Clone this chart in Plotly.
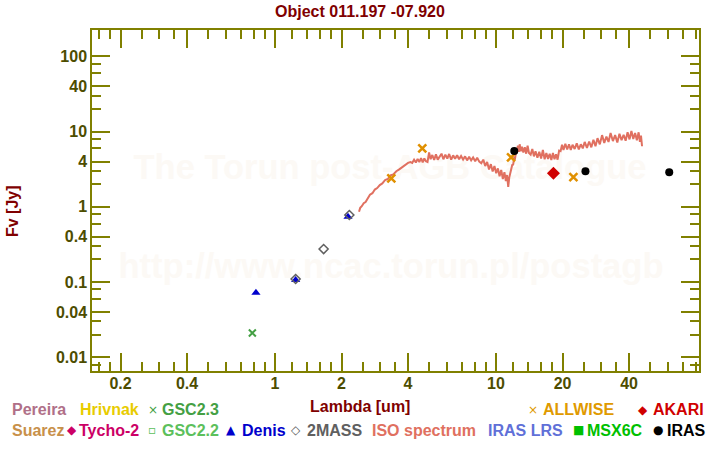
import plotly.graph_objects as go

# ---------------- data ----------------
# ISO spectrum (wavelength um, flux Jy)
iso_wl = [2.40, 2.43, 2.47, 2.52, 2.57, 2.63, 2.69, 2.76, 2.83, 2.90, 2.98, 3.06, 3.15, 3.24, 3.33, 3.43,
          3.54, 3.65, 3.77, 3.89, 4.00, 4.10,
          4.18, 4.26, 4.34, 4.42, 4.50, 4.58, 4.66, 4.74, 4.82, 4.90, 4.98, 5.06, 5.15, 5.25, 5.35, 5.45,
          5.56, 5.67, 5.78, 5.90, 6.02, 6.14, 6.27, 6.40, 6.53, 6.67, 6.81, 6.95, 7.10, 7.25, 7.40, 7.56,
          7.72, 7.88, 8.05, 8.22, 8.40,
          8.58, 8.76, 8.94, 9.12, 9.30, 9.48, 9.66, 9.84, 10.02, 10.20, 10.38, 10.56, 10.74, 10.92, 11.08,
          11.22, 11.36,
          11.48, 11.60, 11.72, 11.84, 11.96, 12.08, 12.20, 12.32, 12.44, 12.56, 12.68, 12.80, 12.95,
          13.10, 13.30, 13.50, 13.70, 13.90, 14.10, 14.35, 14.60, 14.85, 15.10, 15.40, 15.70, 16.00, 16.30,
          16.60, 16.90, 17.20, 17.50, 17.80, 18.10, 18.40, 18.70, 19.00, 19.30,
          19.6, 19.9, 20.2, 20.6, 21.0, 21.4, 21.8, 22.2, 22.7, 23.2, 23.7, 24.2, 24.7, 25.2, 25.8, 26.4,
          27.0, 27.6, 28.2, 28.8, 29.5, 30.2, 30.9, 31.6, 32.3, 33.0, 33.8, 34.6, 35.4, 36.2, 37.0, 37.8,
          38.6, 39.4, 40.2, 41.0, 41.8, 42.6, 43.4, 44.2, 44.8, 45.3, 45.8]
iso_fx = [0.86, 0.97, 1.02, 1.12, 1.16, 1.30, 1.45, 1.52, 1.70, 1.78, 1.95, 2.05, 2.28, 2.35, 2.62, 2.70,
          2.98, 3.15, 3.40, 3.62, 3.85, 3.95,
          3.85, 4.25, 3.90, 4.35, 3.95, 4.45, 3.90, 4.40, 4.05, 3.95, 5.30, 4.30, 4.90, 4.20, 5.00, 4.25,
          4.75, 5.10, 4.30, 4.95, 4.40, 5.05, 4.25, 4.85, 4.35, 4.85, 4.30, 4.75, 4.25, 4.70, 4.15, 4.65,
          4.15, 4.55, 4.05, 4.50, 4.00,
          3.80, 4.25, 3.50, 3.95, 3.15, 3.70, 2.95, 3.50, 2.80, 3.25, 2.55, 3.10, 2.35, 2.90, 2.20,
          2.65, 1.85,
          2.45, 2.85, 3.00, 3.60, 3.65, 4.50, 4.40, 5.40, 5.20, 6.50, 5.40, 6.80, 5.50,
          6.30, 5.30, 6.20, 5.10, 6.50, 5.20, 4.95, 5.90, 4.70, 5.50, 4.50, 5.40, 4.40, 5.70,
          4.30, 5.20, 4.35, 5.10, 4.20, 5.20, 4.30, 5.00, 4.25, 5.60,
          5.50, 6.70, 5.70, 6.90, 5.80, 6.80, 5.70, 6.70, 5.90, 7.00, 5.80, 6.80, 6.00, 7.30, 6.10, 7.40,
          6.20, 7.80, 6.40, 8.20, 6.80, 9.00, 7.10, 8.60, 7.30, 9.60, 7.50, 9.00, 7.20, 9.40, 7.70, 9.10,
          7.60, 9.80, 7.90, 10.2, 8.00, 9.60, 7.70, 9.80, 7.30, 8.90, 6.40]

gsc23_wl = [0.79]
gsc23_fx = [0.021]

denis_wl = [0.82, 1.24, 2.14]
denis_fx = [0.072, 0.107, 0.74]

tmass_wl = [1.24, 1.66, 2.17]
tmass_fx = [0.110, 0.275, 0.78]

allwise_wl = [3.36, 4.64, 11.7, 22.4]
allwise_fx = [2.40, 6.00, 4.55, 2.48]

akari_wl = [18.2]
akari_fx = [2.80]

iras_wl = [12.1, 25.4, 60.8]
iras_fx = [5.55, 2.98, 2.89]

x_tickvals = [0.2, 0.4, 1, 2, 4, 10, 20, 40]
x_ticktext = ["0.2", "0.4", "1", "2", "4", "10", "20", "40"]
x_minor = [0.16, 0.18, 0.25, 0.3, 0.35, 0.5, 0.6, 0.7, 0.8, 0.9, 1.2, 1.4, 1.6, 1.8, 2.5, 3, 3.5,
           5, 6, 7, 8, 9, 12, 14, 16, 18, 25, 30, 35, 50, 60, 70, 80]
y_tickvals = [0.01, 0.04, 0.1, 0.4, 1, 4, 10, 40, 100]
y_ticktext = ["0.01", "0.04", "0.1", "0.4", "1", "4", "10", "40", "100"]
y_minor = [0.008, 0.02, 0.03, 0.06, 0.08, 0.2, 0.3, 0.6, 0.8, 2, 3, 6, 8, 20, 30, 60, 80]

# legend rows: (symbol, label, color, symbol_x_px, label_x_px)
legend_row1 = [("", "Pereira", "#b07088", 0, 10),
               ("", "Hrivnak", "#e8cc00", 0, 78),
               ("×", "GSC2.3", "#44a044", 146, 160),
               ("×", "ALLWISE", "#e09a00", 526, 541),
               ("◆", "AKARI", "#d00000", 636, 651)]
legend_row2 = [("", "Suarez", "#c8904a", 0, 10),
               ("◆", "Tycho-2", "#cc0066", 65, 77),
               ("▫", "GSC2.2", "#5cc05c", 146, 160),
               ("▲", "Denis", "#0000cc", 224, 240),
               ("◇", "2MASS", "#606060", 289, 305),
               ("", "ISO spectrum", "#e07060", 0, 370),
               ("", "IRAS LRS", "#6070d8", 0, 486),
               ("■", "MSX6C", "#00c000", 571, 585),
               ("●", "IRAS", "#000000", 651, 665)]

# ---------------- figure ----------------
W, H = 720, 450
L, R, T, B = 92, 21, 30, 79
PW, PH = W - L - R, H - T - B


def px(x):
    return (x - L) / PW


def py(y):
    return (H - B - y) / PH


FONT = "Liberation Sans, Arial, sans-serif"
AX = "#808000"
TICKC = "#4d4d00"
DARKRED = "#800000"
WM = "#fcf9f5"

fig = go.Figure()

fig.add_trace(go.Scatter(x=iso_wl, y=iso_fx, mode="lines",
                         line=dict(color="#e07060", width=2), showlegend=False))
fig.add_trace(go.Scatter(x=gsc23_wl, y=gsc23_fx, mode="markers", showlegend=False,
                         marker=dict(symbol="x-thin-open", size=7, color="#44a044",
                                     line=dict(color="#44a044", width=2))))
fig.add_trace(go.Scatter(x=denis_wl, y=denis_fx, mode="markers", showlegend=False,
                         marker=dict(symbol="triangle-up", size=8, color="#0000cc",
                                     line=dict(width=0))))
fig.add_trace(go.Scatter(x=tmass_wl, y=tmass_fx, mode="markers", showlegend=False,
                         marker=dict(symbol="diamond-open", size=7, color="#606060",
                                     line=dict(color="#606060", width=1.5))))
fig.add_trace(go.Scatter(x=allwise_wl, y=allwise_fx, mode="markers", showlegend=False,
                         marker=dict(symbol="x-thin-open", size=8, color="#e09000",
                                     line=dict(color="#e09000", width=2.5))))
fig.add_trace(go.Scatter(x=akari_wl, y=akari_fx, mode="markers", showlegend=False,
                         marker=dict(symbol="diamond", size=10, color="#d00000",
                                     line=dict(width=0))))
fig.add_trace(go.Scatter(x=iras_wl, y=iras_fx, mode="markers", showlegend=False,
                         marker=dict(symbol="circle", size=8, color="#000000",
                                     line=dict(width=0))))

axis_common = dict(type="log", showgrid=False, zeroline=False, showline=True, linecolor=AX,
                   linewidth=1.5, mirror="ticks", ticks="inside", ticklen=18, tickwidth=1.5,
                   tickcolor=AX, tickfont=dict(family=FONT, size=16, color=TICKC, weight="bold"))

fig.update_xaxes(**axis_common, range=[-0.828, 1.9186], tickmode="array",
                 tickvals=x_tickvals, ticktext=x_ticktext, ticklabelstandoff=-3,
                 minor=dict(tickmode="array", tickvals=x_minor, ticks="inside", ticklen=9,
                            tickwidth=1.5, tickcolor=AX, showgrid=False))
fig.update_yaxes(**axis_common, range=[-2.182, 2.352], tickmode="array",
                 tickvals=y_tickvals, ticktext=y_ticktext,
                 minor=dict(tickmode="array", tickvals=y_minor, ticks="inside", ticklen=9,
                            tickwidth=1.5, tickcolor=AX, showgrid=False))


def note(text, x, y, size, color, xanchor="center", angle=0, family=FONT, bold=True):
    f = dict(family=family, size=size, color=color)
    if bold:
        f["weight"] = "bold"
    return dict(text=text, x=px(x), y=py(y), xref="paper", yref="paper", xanchor=xanchor,
                yanchor="middle", textangle=angle, showarrow=False, font=f)


# watermark drawn below the data, as labels of invisible shapes
shapes = []
for txt, cx, cy in (("The Torun post-AGB Catalogue", 390, 163),
                    ("http://www.ncac.torun.pl/postagb", 391, 262)):
    shapes.append(dict(type="rect", xref="paper", yref="paper", layer="below",
                       x0=px(cx - 300), x1=px(cx + 300), y0=py(cy + 20), y1=py(cy - 20),
                       line=dict(width=0), fillcolor="rgba(0,0,0,0)",
                       label=dict(text=txt, textposition="middle center",
                                  font=dict(family=FONT, size=34.5, color=WM, weight="bold"))))

ann = []
ann.append(note("Object 011.197 -07.920", 360, 11, 16, DARKRED))
ann.append(note("Lambda [um]", 360, 407, 16, DARKRED))
ann.append(note("Fv [Jy]", 12, 211, 16, DARKRED, angle=-90))

for row, yy in ((legend_row1, 410), (legend_row2, 430)):
    for sym, lab, col, sx, lx in row:
        if sym:
            ann.append(note(sym, sx, yy, 12, col, xanchor="left", family="DejaVu Sans", bold=False))
        ann.append(note(lab, lx, yy, 16, col, xanchor="left"))

fig.update_layout(width=W, height=H, margin=dict(l=L, r=R, t=T, b=B, autoexpand=False),
                  plot_bgcolor="white", paper_bgcolor="white", annotations=ann, shapes=shapes,
                  showlegend=False)

fig.write_html("out.html")
